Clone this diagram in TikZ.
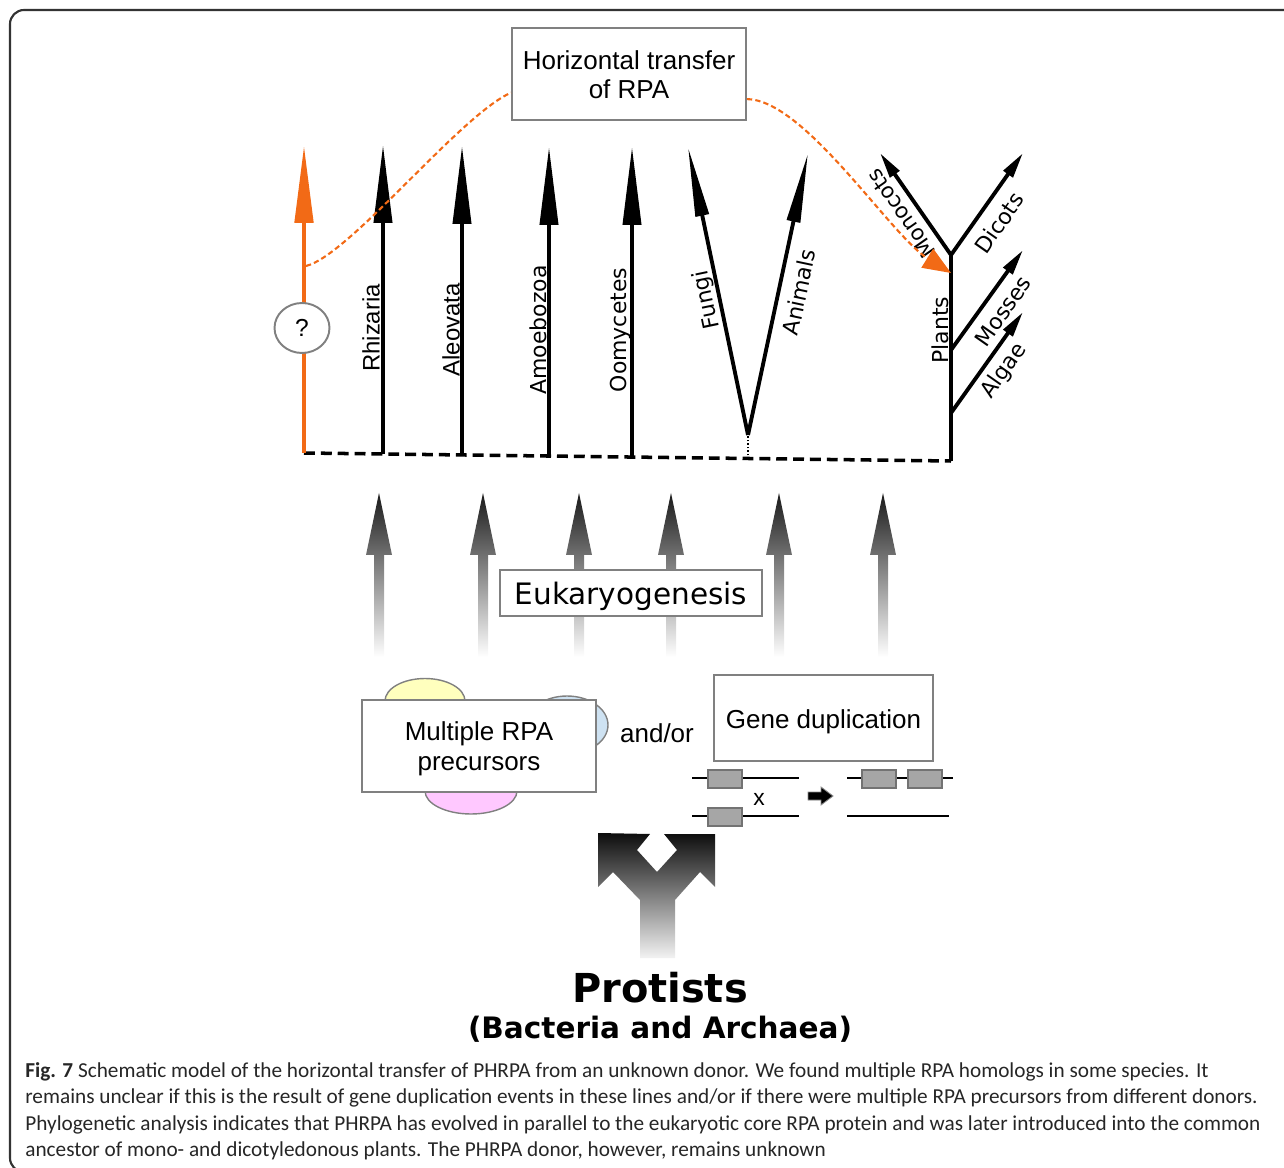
\documentclass[tikz,border=0pt]{standalone}
\usepackage{fontspec}
\setmainfont{Liberation Sans}
\newfontfamily\dejavu{DejaVu Sans}
\newfontfamily\capfont{Carlito}
\usetikzlibrary{arrows.meta,shapes.geometric}

\definecolor{hgtorange}{RGB}{242,106,22}
\definecolor{boxgray}{RGB}{128,128,128}
\definecolor{precyellow}{RGB}{255,255,190}
\definecolor{precblue}{RGB}{206,226,242}
\definecolor{precpink}{RGB}{255,200,255}
\definecolor{genegray}{RGB}{166,166,166}

\begin{document}
\begin{tikzpicture}[x=0.02cm,y=-0.02cm,>=Triangle]
  \tikzstyle{box}=[draw=boxgray,line width=1.1pt,fill=white,align=center,inner sep=0pt];
  \tikzstyle{boxtext}=[font=\fontsize{14.8}{17}\selectfont,align=center,inner sep=0pt];
  \tikzstyle{taxon}=[font=\dejavu\fontsize{12.5}{14}\selectfont,inner sep=0pt];
  \tikzstyle{taxonA}=[font=\fontsize{13.6}{15}\selectfont,inner sep=0pt];
  \tikzstyle{lineage}=[line width=2.2pt,-{Triangle[length=1.56cm,width=0.36cm]}];
  \tikzstyle{branch}=[line width=2.2pt,-{Triangle[length=1.4cm,width=0.26cm]}];
  \tikzstyle{twig}=[line width=2.2pt,-{Triangle[length=0.52cm,width=0.22cm]}];
  \tikzstyle{hgt}=[hgtorange,line width=1.2pt,dash pattern=on 3pt off 1.8pt];
  \tikzstyle{eukarrow}=[top color=black!90,middle color=black!62,bottom color=white];
  \tikzstyle{gene}=[draw=black!55,fill=genegray,line width=0.8pt,minimum width=0.68cm,minimum height=0.36cm,inner sep=0pt];

  \useasboundingbox (0,0) rectangle (1284,1168);
  \clip (0,0) rectangle (1284,1168);
  \draw[black!80,line width=1.2pt,rounded corners=8pt] (10,10) rectangle (1310,1172);

  % tree ends
  \coordinate (orbase) at (304,453);  \coordinate (ortip) at (304,145);
  \coordinate (rhbase) at (383,454);  \coordinate (rhtip) at (383,145);
  \coordinate (albase) at (462,455);  \coordinate (altip) at (462,146);
  \coordinate (ambase) at (549,456);  \coordinate (amtip) at (549,147);
  \coordinate (oobase) at (632,457);  \coordinate (ootip) at (632,147);
  \coordinate (opbase) at (748,459);  \coordinate (oproot) at (748,435);
  \coordinate (futip) at (688,147);   \coordinate (antip) at (808,153);
  \coordinate (plbase) at (951,461);  \coordinate (plfork) at (951,255);
  \coordinate (mosroot) at (951,350); \coordinate (algroot) at (951,413);
  \coordinate (motip) at (880,153);   \coordinate (ditip) at (1023,153);
  \coordinate (mostip) at (1023,250); \coordinate (algtip) at (1023,312);
  \coordinate (hgtsrc) at (306,266);  \coordinate (hgtin) at (951,273);

  \draw[line width=2pt,dash pattern=on 6.2pt off 3.4pt] (orbase) -- (plbase);

  \draw[lineage] (rhbase) -- (rhtip);
  \draw[lineage] (albase) -- (altip);
  \draw[lineage] (ambase) -- (amtip);
  \draw[lineage] (oobase) -- (ootip);
  \draw[line width=1.6pt,dash pattern=on 1pt off 1pt] (opbase) -- (oproot);
  \draw[branch] (oproot) -- (futip);
  \draw[branch] (oproot) -- (antip);
  \draw[line width=2.2pt] (plbase) -- (plfork);
  \draw[twig] (plfork) -- (motip);
  \draw[twig] (plfork) -- (ditip);
  \draw[twig] (mosroot) -- (mostip);
  \draw[twig] (algroot) -- (algtip);
  \draw[hgtorange,line width=2.8pt,-{Triangle[length=1.56cm,width=0.36cm]}] (orbase) -- (ortip);

  \node[ellipse,draw=boxgray,fill=white,line width=1.1pt,minimum width=1.1cm,minimum height=1.0cm,inner sep=0pt,font=\fontsize{14}{16}\selectfont] (unknown) at (302,328) {?};

  \node[taxonA,rotate=90] (rhizaria) at (371,328) {Rhizaria};
  \node[taxonA,rotate=90] (aleovata) at (451,330) {Aleovata};
  \node[taxon,rotate=90] (amoebozoa) at (538,330) {Amoebozoa};
  \node[taxon,rotate=90] (oomycetes) at (621,330) {Oomycetes};
  \node[taxon,rotate=101.8] (fungi) at (707,300) {Fungi};
  \node[taxon,rotate=78] (animals) at (799,292) {Animals};
  \node[taxon,rotate=90] (plants) at (940,330) {Plants};
  \node[taxon,rotate=125,font=\dejavu\fontsize{12.2}{14}\selectfont] (monocots) at (901,214) {Monocots};
  \node[taxon,rotate=55] (dicots) at (999,223) {Dicots};
  \node[taxon,rotate=55] (mosses) at (1003,311) {Mosses};
  \node[taxon,rotate=55] (algae) at (1004,371) {Algae};

  \node[box,minimum width=4.68cm,minimum height=1.84cm] (transfer) at (629,74) {};
  \node[boxtext,font=\fontsize{14.8}{16.5}\selectfont] (transfertext) at (629,75) {Horizontal transfer\\of RPA};
  \draw[hgt] (hgtsrc) .. controls (350,255) and (460,115) .. (transfer.189);
  \draw[hgt,-{Triangle[length=0.56cm,width=0.44cm]}] (transfer.348) .. controls (805,100) and (890,235) .. (hgtin);

  % eukaryogenesis
  \foreach \x in {379,483,579,671,779,883}
    \shade[eukarrow] (\x-5,657) -- (\x-5,555) -- (\x-13,555) -- (\x,493) -- (\x+13,555) -- (\x+5,555) -- (\x+5,657) -- cycle;
  \node[box,minimum width=5.24cm,minimum height=0.92cm] (euk) at (631,593) {};
  \node[boxtext,font=\dejavu\fontsize{16.8}{18}\selectfont] (euktext) at (631,596) {Eukaryogenesis};

  % precursors
  \node[ellipse,draw=boxgray,fill=precyellow,line width=0.8pt,minimum width=1.6cm,minimum height=0.9cm] (precyel) at (425,701) {};
  \node[ellipse,draw=boxgray,fill=precblue,line width=0.8pt,minimum width=1.64cm,minimum height=1.16cm] (precblu) at (567,725) {};
  \node[ellipse,draw=boxgray,fill=precpink,line width=0.8pt,minimum width=1.84cm,minimum height=0.92cm] (precpin) at (471,791) {};
  \node[box,minimum width=4.68cm,minimum height=1.84cm] (multi) at (479,746) {};
  \node[boxtext] (multitext) at (479,749) {Multiple RPA\\precursors};
  \node[boxtext] (andor) at (657,733) {and/or};
  \node[box,minimum width=4.38cm,minimum height=1.72cm] (gdup) at (823.5,718) {};
  \node[boxtext] (gduptext) at (823.5,722) {Gene duplication};

  % gene duplication sketch
  \coordinate (gla) at (692,778); \coordinate (glb) at (799,778);
  \coordinate (gma) at (692,816); \coordinate (gmb) at (799,816);
  \coordinate (gra) at (847,778); \coordinate (grb) at (953,778);
  \coordinate (gsa) at (847,816); \coordinate (gsb) at (949,816);
  \draw[line width=1.1pt] (gla) -- (glb);
  \draw[line width=1.1pt] (gma) -- (gmb);
  \draw[line width=1.1pt] (gra) -- (grb);
  \draw[line width=1.1pt] (gsa) -- (gsb);
  \node[gene] (gene1) at (725,779) {};
  \node[gene] (gene2) at (725,817) {};
  \node[gene] (gene3) at (879,779) {};
  \node[gene] (gene4) at (925,779) {};
  \node[font=\fontsize{13}{15}\selectfont] (cross) at (759,799) {x};
  \filldraw[fill=black,draw=black!45,line width=0.5pt] (808,792) -- (821,792) -- (821,787) -- (833,796) -- (821,805) -- (821,800) -- (808,800) -- cycle;

  % protists
  \shade[top color=black!95,middle color=black!70,bottom color=white!95!black]
    (598,833) -- (650,834) -- (637,850) -- (657,872) -- (677,850) -- (664,834) -- (715,834)
    -- (715,887) -- (700,872) -- (675,900) -- (675,958) -- (640,958) -- (640,900)
    -- (613,872) -- (598,887) -- cycle;
  \node[font=\dejavu\bfseries\fontsize{22.7}{26}\selectfont] (protists) at (660,988) {Protists};
  \node[font=\dejavu\bfseries\fontsize{16.8}{20}\selectfont] (bacteria) at (660,1029) {(Bacteria and Archaea)};

  \node[anchor=north west,inner sep=0pt,align=left,text=black!85,font=\capfont\fontsize{12.1}{15.1}\selectfont] (caption) at (25,1062)
    {\textbf{Fig. 7} Schematic model of the horizontal transfer of PHRPA from an unknown donor. We found multiple RPA homologs in some species. It\\
     remains unclear if this is the result of gene duplication events in these lines and/or if there were multiple RPA precursors from different donors.\\
     Phylogenetic analysis indicates that PHRPA has evolved in parallel to the eukaryotic core RPA protein and was later introduced into the common\\
     ancestor of mono- and dicotyledonous plants. The PHRPA donor, however, remains unknown};
\end{tikzpicture}
\end{document}
